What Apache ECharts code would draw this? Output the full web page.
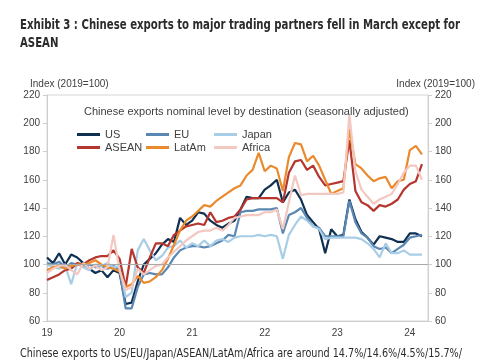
<!DOCTYPE html>
<html>
<head>
<meta charset="utf-8">
<script src="https://cdn.jsdelivr.net/npm/echarts@6/dist/echarts.min.js"></script>
<style>
html,body{margin:0;padding:0;background:#fff;}
#c{width:485px;height:360px;}
</style>
</head>
<body>
<div id="c"></div>
<script>
const months = [
'2019-01','2019-02','2019-03','2019-04','2019-05','2019-06','2019-07','2019-08','2019-09','2019-10','2019-11','2019-12',
'2020-01','2020-02','2020-03','2020-04','2020-05','2020-06','2020-07','2020-08','2020-09','2020-10','2020-11','2020-12',
'2021-01','2021-02','2021-03','2021-04','2021-05','2021-06','2021-07','2021-08','2021-09','2021-10','2021-11','2021-12',
'2022-01','2022-02','2022-03','2022-04','2022-05','2022-06','2022-07','2022-08','2022-09','2022-10','2022-11','2022-12',
'2023-01','2023-02','2023-03','2023-04','2023-05','2023-06','2023-07','2023-08','2023-09','2023-10','2023-11','2023-12',
'2024-01','2024-02','2024-03','2024-04'];
const yearLabels = ['19','20','21','22','23','24'];
const yTicks = [60, 80, 100, 120, 140, 160, 180, 200, 220];

const us = [105,101,108,100,107,105,101,97,94,96,91,96,
 94,72,73,88,100,104,108,114,118,116,133,128,
 131,137,136,131,128,126,129,131,139,148,147,147,
 153,156,160,144,151,153,146,135,130,125,108,125,
 120,121,146,132,123,119,114,120,119,118,116,116,
 122,122,120];
const eu = [101,100,102,98,101,100,99,100,98,99,97,99,
 96,69,69,84,93,94,93,93,98,105,110,112,
 113,113,112,113,115,117,121,120,137,138,138,139,
 139,139,140,122,135,137,140,133,127,126,120,120,
 120,120,145,130,122,119,113,111,112,108,111,114,
 119,120,121];
const japan = [100,98,97,99,86,101,98,96,100,99,101,98,
 99,77,80,110,118,110,103,106,112,113,117,112,
 115,113,117,113,117,118,116,119,120,120,120,121,
 120,121,120,104,121,128,134,131,127,125,118,119,
 119,119,119,119,118,115,111,105,115,108,108,110,
 107,107,107];
const asean = [89,91,93,96,97,101,100,103,105,106,106,110,
 104,84,111,98,94,105,115,115,113,121,124,127,
 128,129,128,137,130,131,133,134,139,146,147,147,
 147,147,147,144,165,173,174,167,170,162,156,157,
 158,159,188,152,144,142,138,142,141,143,146,153,
 157,159,171];
const latam = [96,98,99,97,99,100,100,101,103,100,98,97,
 95,84,86,92,87,88,91,96,104,114,124,131,
 134,138,142,141,145,148,151,154,156,163,167,179,
 166,170,168,152,176,186,185,173,177,170,160,150,
 152,154,196,171,168,163,159,161,162,154,159,160,
 181,184,178];
const africa = [94,97,99,100,96,93,101,97,99,96,98,121,
 96,82,84,97,93,96,99,100,105,109,113,117,
 120,123,124,124,126,124,128,133,134,135,135,135,
 137,137,139,125,144,163,149,150,150,150,150,150,
 150,151,206,166,153,148,143,146,148,150,157,165,
 170,170,160];

const names = ['US','EU','Japan','ASEAN','LatAm','Africa'];
const colors = ['#0f3050','#5b87b3','#a8cde6','#b5352f','#ea8a2d','#f3c8c0'];
const values = [us, eu, japan, asean, latam, africa];

const titleLine1 = 'Exhibit 3 : Chinese exports to major trading partners fell in March except for';
const titleLine2 = 'ASEAN';
const noteText = 'Chinese exports to US/EU/Japan/ASEAN/LatAm/Africa are around 14.7%/14.6%/4.5%/15.7%/';

const chart = echarts.init(document.getElementById('c'), null, {renderer:'canvas'});
const baseFont = 'Liberation Sans, Arial, sans-serif';
const condFont = '"DejaVu Sans Condensed", "DejaVu Sans", sans-serif';

const mctx = document.createElement('canvas').getContext('2d');
function measure(text, font) { mctx.font = font; return mctx.measureText(text).width; }

const titleFont = 'bold 14px ' + condFont;
const noteFont = '12px ' + condFont;
const titleScale = 440 / measure(titleLine1, titleFont);
const noteScale = 442 / measure(noteText, noteFont);

const series = names.map((n, k) => {
  const s = {
    name: n, type: 'line', data: values[k], showSymbol: false, symbol: 'none',
    lineStyle: {width: 2.2, color: colors[k]}, itemStyle: {color: colors[k]},
    animation: false
  };
  if (k === 0) {
    s.markLine = {silent: true, symbol: 'none', animation: false,
      label: {show: false}, lineStyle: {color: '#a8a8a8', width: 1, type: 'solid'},
      data: [{yAxis: 100}]};
  }
  return s;
});

function legendCol(left, items) {
  return {
    orient: 'vertical', left: left, top: 123, data: items,
    icon: 'rect', itemWidth: 23, itemHeight: 3, itemGap: 0,
    textStyle: {fontFamily: baseFont, fontSize: 11, color: '#404040', lineHeight: 13},
    selectedMode: false
  };
}

const yAxisBase = {
  type: 'value', min: yTicks[0], max: yTicks[yTicks.length - 1], interval: 20,
  axisLine: {show: true, lineStyle: {color: '#cfcfcf'}},
  axisTick: {show: true, length: 4, lineStyle: {color: '#cfcfcf'}},
  splitLine: {show: false},
  axisLabel: {fontFamily: baseFont, fontSize: 10, color: '#404040', margin: 7}
};

function textEl(text, x, y, font, scale, color) {
  return {type: 'text', x: x, y: y, scaleX: scale, silent: true,
    style: {text: text, font: font, fill: color, textAlign: 'left', textVerticalAlign: 'middle'}};
}

chart.setOption({
  animation: false,
  title: [
    {text: 'Index (2019=100)', left: 25, top: 74,
     textStyle: {fontFamily: baseFont, fontWeight: 'normal', fontSize: 10, color: '#404040'}},
    {text: 'Index (2019=100)', right: 5, top: 74,
     textStyle: {fontFamily: baseFont, fontWeight: 'normal', fontSize: 10, color: '#404040'}},
    {text: 'Chinese exports nominal level by destination (seasonally adjusted)', left: 79, top: 101,
     textStyle: {fontFamily: baseFont, fontWeight: 'normal', fontSize: 11, color: '#404040'}}
  ],
  graphic: [
    textEl(titleLine1, 20, 25, titleFont, titleScale, '#2b2b2b'),
    textEl(titleLine2, 20, 43, titleFont, titleScale, '#2b2b2b'),
    textEl(noteText, 20, 354, noteFont, noteScale, '#2b2b2b')
  ],
  legend: [
    legendCol(72, ['US', 'ASEAN']),
    legendCol(141, ['EU', 'LatAm']),
    legendCol(209, ['Japan', 'Africa'])
  ],
  grid: {left: 47, right: 57, top: 95, bottom: 39, show: true, borderColor: '#d6d6d6', borderWidth: 1, containLabel: false},
  xAxis: {
    type: 'category', data: months, boundaryGap: false,
    axisLine: {show: true, lineStyle: {color: '#cfcfcf'}},
    axisTick: {show: false},
    splitLine: {show: false},
    axisLabel: {
      fontFamily: baseFont, fontSize: 10, color: '#404040', margin: 7,
      interval: (idx) => idx % 12 === 0,
      formatter: (val, idx) => yearLabels[Math.floor(idx / 12)] || ''
    }
  },
  yAxis: [
    Object.assign({}, yAxisBase, {position: 'left'}),
    Object.assign({}, yAxisBase, {position: 'right'})
  ],
  series: series
});
</script>
</body>
</html>
